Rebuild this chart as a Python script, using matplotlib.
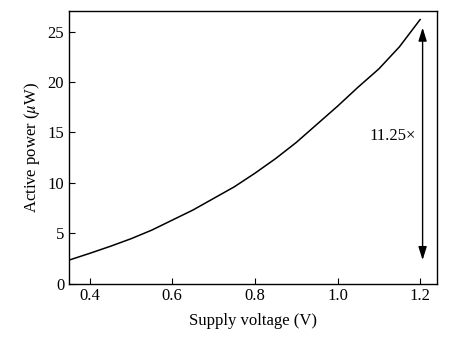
import matplotlib
matplotlib.use("Agg")
import matplotlib.pyplot as plt

plt.rcParams['font.family'] = ['Liberation Serif', 'DejaVu Serif']
plt.rcParams['mathtext.fontset'] = 'stix'

# supply voltage sweep (V) and measured active power (uW)
voltage = [0.35, 0.40, 0.45, 0.50, 0.55, 0.60, 0.65, 0.70, 0.75, 0.80,
           0.85, 0.90, 0.95, 1.00, 1.05, 1.10, 1.15, 1.20]
power = [2.33, 3.0, 3.7, 4.45, 5.3, 6.3, 7.3, 8.45, 9.6, 10.95,
         12.4, 14.0, 15.8, 17.6, 19.5, 21.3, 23.5, 26.2]

xticks = [0.4, 0.6, 0.8, 1.0, 1.2]
yticks = [0, 5, 10, 15, 20, 25]
ratio_label = "11.25\u00d7"

fig = plt.figure(figsize=(4.73, 3.38), dpi=100)
ax = fig.add_axes([0.146, 0.161, 0.778, 0.805])

ax.plot(voltage, power, color='black', linewidth=1.1)

# double arrow spanning min to max power
x_arr = 1.206
ax.annotate('', xy=(x_arr, power[-1] - 0.8), xytext=(x_arr, power[0]),
            arrowprops=dict(arrowstyle='<|-|>,head_length=0.8,head_width=0.25',
                            color='black', lw=1.0,
                            mutation_scale=10, shrinkA=0, shrinkB=0))
ax.text(1.133, 14.6, ratio_label, ha='center', va='center', fontsize=12)

ax.set_xlim(0.35, 1.241)
ax.set_ylim(0, 27)
ax.set_xticks(xticks)
ax.set_xticklabels(['%.1f' % v for v in xticks])
ax.set_yticks(yticks)
ax.tick_params(direction='in', length=4, width=0.8, labelsize=12,
               top=False, right=False)
for s in ax.spines.values():
    s.set_linewidth(1.0)

ax.set_xlabel('Supply voltage (V)', fontsize=12, labelpad=6)
ax.set_ylabel(r'Active power ($\mu$W)', fontsize=12, labelpad=4)

fig.savefig('out.png', dpi=100)
